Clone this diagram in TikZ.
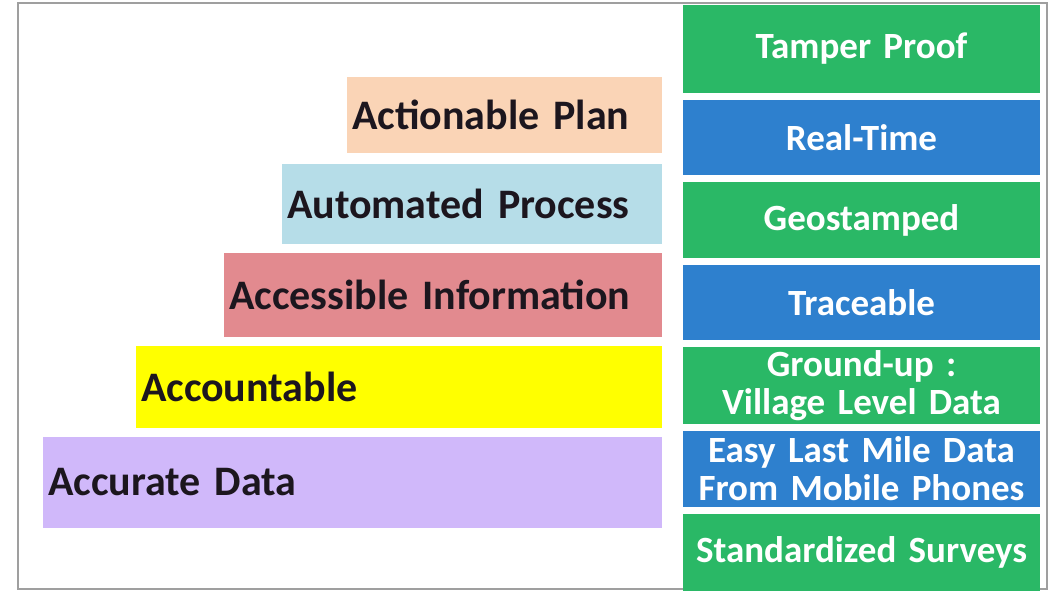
\documentclass[tikz,border=0pt]{standalone}
\usepackage{fontspec}
\setmainfont{Carlito}[WordSpace=0.75]
\usetikzlibrary{positioning}
\definecolor{peach}{RGB}{250,212,182}
\definecolor{aqua}{RGB}{182,221,232}
\definecolor{rose}{RGB}{226,138,143}
\definecolor{lemon}{RGB}{255,255,0}
\definecolor{lilac}{RGB}{208,184,250}
\definecolor{leaf}{RGB}{42,184,102}
\definecolor{sky}{RGB}{46,128,206}
\definecolor{ink}{RGB}{28,22,30}
\tikzset{
  stair/.style={inner xsep=5pt, inner ysep=0pt, outer sep=0pt, align=left, text=ink,
    font=\fontsize{42}{46}\selectfont\bfseries},
  tag/.style={inner sep=0pt, outer sep=0pt, text width=357pt, align=center, text=white,
    font=\fontsize{37}{38}\selectfont\bfseries},
}

\begin{document}
\begin{tikzpicture}[x=1pt,y=-1pt]
    \useasboundingbox (0,0) rectangle (1051,592);
    \draw[gray!75,line width=1.2pt] (18,3) rectangle (1047,589);
    % staircase on the left
    \node[stair,fill=peach,text width=305pt,minimum height=76pt,anchor=north east] (plan) at (662,77) {Actionable Plan};
    \node[stair,fill=aqua,text width=370pt,minimum height=80pt,below=11pt of plan.south east,anchor=north east] (process) {Automated Process};
    \node[stair,fill=rose,text width=428pt,minimum height=84pt,below=9pt of process.south east,anchor=north east] (info) {Accessible Information};
    \node[stair,fill=lemon,text width=516pt,minimum height=82pt,below=9pt of info.south east,anchor=north east] (account) {Accountable};
    \node[stair,fill=lilac,text width=609pt,minimum height=91pt,below=9pt of account.south east,anchor=north east] (data) {Accurate Data};
    % column of properties on the right
    \node[tag,fill=leaf,minimum height=88pt,anchor=north west] (tamper) at (683,5) {Tamper Proof};
    \node[tag,fill=sky,minimum height=75pt,below=7pt of tamper] (realtime) {Real-Time};
    \node[tag,fill=leaf,minimum height=76pt,below=7pt of realtime] (geo) {Geostamped};
    \node[tag,fill=sky,minimum height=75pt,below=7pt of geo] (trace) {Traceable};
    \node[tag,fill=leaf,minimum height=77pt,below=7pt of trace] (ground) {Ground-up :\\Village Level Data};
    \node[tag,fill=sky,minimum height=76pt,below=7pt of ground] (lastmile) {Easy Last Mile Data\\From Mobile Phones};
    \node[tag,fill=leaf,minimum height=77pt,below=7pt of lastmile] (surveys) {Standardized Surveys};
  \end{tikzpicture}
\end{document}
